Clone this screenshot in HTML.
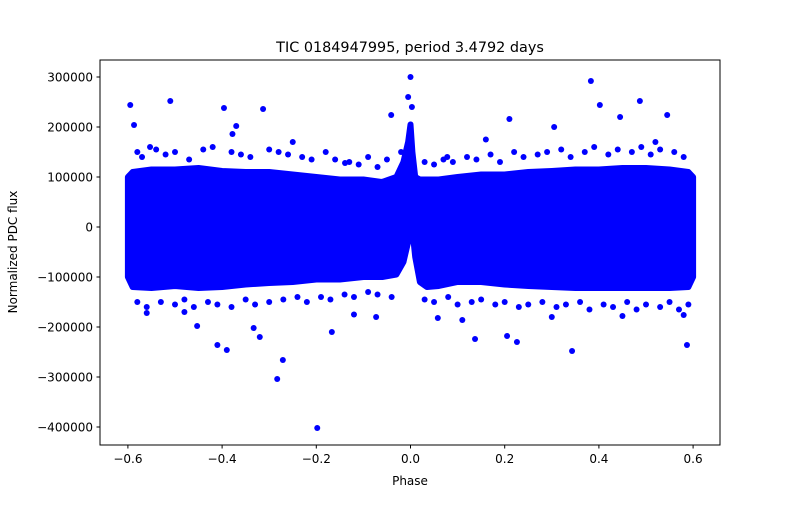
<!DOCTYPE html>
<html><head><meta charset="utf-8"><style>
body{margin:0;background:#fff;}
svg text{font-family:"DejaVu Sans","Liberation Sans",sans-serif;fill:#000;}
</style></head><body>
<svg id="chart" width="800" height="500" viewBox="0 0 800 500" xmlns="http://www.w3.org/2000/svg">
<rect width="800" height="500" fill="#fff"/>
<g id="plot"></g>
<rect x="100" y="60" width="620" height="385" fill="none" stroke="#000" stroke-width="1"/>
<g id="axes"></g>
<text x="410" y="52" font-size="14.4" text-anchor="middle">TIC 0184947995, period 3.4792 days</text>
<text x="410" y="485" font-size="12" text-anchor="middle">Phase</text>
<text transform="translate(17,252) rotate(-90)" font-size="12" text-anchor="middle">Normalized PDC flux</text>
</svg>
<script>
const envPhase=[-0.6,-0.59,-0.55,-0.5,-0.45,-0.4,-0.35,-0.3,-0.25,-0.2,-0.15,-0.1,-0.06,-0.03,-0.015,-0.005,0,0.004,0.01,0.02,0.035,0.06,0.1,0.15,0.2,0.25,0.3,0.35,0.4,0.45,0.5,0.55,0.59,0.6];
const envUpper=[100000,110000,115000,115000,118000,112000,110000,110000,105000,100000,95000,95000,90000,100000,130000,170000,205000,150000,100000,95000,95000,95000,100000,105000,105000,110000,112000,115000,115000,118000,118000,115000,110000,100000];
const envLower=[-100000,-120000,-122000,-118000,-122000,-120000,-115000,-112000,-110000,-105000,-105000,-100000,-100000,-95000,-70000,-30000,-8000,-5000,-60000,-110000,-120000,-118000,-110000,-110000,-115000,-118000,-120000,-122000,-122000,-122000,-122000,-122000,-120000,-100000];
const outPhase=[-0.595,-0.587,-0.51,-0.396,-0.313,-0.37,-0.198,-0.283,-0.271,-0.39,-0.41,-0.32,-0.333,-0.453,0,0.21,0.137,0.226,0.205,0.343,0.383,0.402,0.487,0.545,0.587,0.305,0.58,0.058,0.11,-0.073,-0.167,-0.378,-0.553,-0.139,-0.041,0.078,0.445,-0.005,0.003,-0.48,-0.25,-0.12,0.3,0.52,-0.56,0.16,0.45,
-0.58,-0.57,-0.54,-0.52,-0.5,-0.47,-0.44,-0.42,-0.38,-0.36,-0.34,-0.3,-0.28,-0.26,-0.23,-0.21,-0.18,-0.16,-0.13,-0.11,-0.09,-0.07,-0.05,-0.02,
0.03,0.05,0.07,0.09,0.12,0.14,0.17,0.19,0.22,0.24,0.27,0.29,0.32,0.34,0.37,0.39,0.42,0.44,0.47,0.49,0.51,0.53,0.56,0.58,
-0.58,-0.56,-0.53,-0.5,-0.48,-0.46,-0.43,-0.41,-0.38,-0.35,-0.33,-0.3,-0.27,-0.24,-0.22,-0.19,-0.17,-0.14,-0.12,-0.09,-0.07,-0.04,
0.03,0.05,0.08,0.1,0.13,0.15,0.18,0.2,0.23,0.25,0.28,0.31,0.33,0.36,0.38,0.41,0.43,0.46,0.48,0.5,0.53,0.55,0.57,0.59];
const outFlux=[244000,204000,252000,238000,236000,202000,-402000,-304000,-266000,-246000,-236000,-220000,-202000,-198000,300000,216000,-224000,-230000,-218000,-248000,292000,244000,252000,224000,-236000,200000,-176000,-182000,-186000,-180000,-210000,186000,160000,128000,224000,140000,220000,260000,240000,-170000,170000,-175000,-180000,170000,-172000,175000,-178000,
150000,140000,155000,145000,150000,135000,155000,160000,150000,145000,140000,155000,150000,145000,140000,135000,150000,135000,130000,125000,140000,120000,135000,150000,
130000,125000,135000,130000,140000,135000,145000,130000,150000,140000,145000,150000,155000,140000,150000,160000,145000,155000,150000,160000,145000,155000,150000,140000,
-150000,-160000,-150000,-155000,-145000,-160000,-150000,-155000,-160000,-145000,-155000,-150000,-145000,-140000,-150000,-140000,-145000,-135000,-140000,-130000,-135000,-140000,
-145000,-150000,-140000,-155000,-150000,-145000,-155000,-150000,-160000,-155000,-150000,-160000,-155000,-150000,-165000,-155000,-160000,-150000,-165000,-155000,-160000,-150000,-165000,-155000];
const xTicks=[-0.6,-0.4,-0.2,0.0,0.2,0.4,0.6];
const xTickLabels=["−0.6","−0.4","−0.2","0.0","0.2","0.4","0.6"];
const yTicks=[300000,200000,100000,0,-100000,-200000,-300000,-400000];
const yTickLabels=["300000","200000","100000","0","−100000","−200000","−300000","−400000"];

const NS="http://www.w3.org/2000/svg";
const xs=p=>410.5+p*471;
const ys=v=>227-v*0.0005;
const plot=document.getElementById('plot');
const axes=document.getElementById('axes');

let pts=envPhase.map((p,i)=>xs(p)+','+ys(envUpper[i]));
for(let i=envPhase.length-1;i>=0;i--)pts.push(xs(envPhase[i])+','+ys(envLower[i]));
const band=document.createElementNS(NS,'polygon');
band.setAttribute('points',pts.join(' '));
band.setAttribute('fill','#0000ff');band.setAttribute('stroke','#0000ff');
band.setAttribute('stroke-width','6');band.setAttribute('stroke-linejoin','round');


plot.appendChild(band);

outPhase.forEach((p,i)=>{
 const c=document.createElementNS(NS,'circle');
 c.setAttribute('cx',xs(p));c.setAttribute('cy',ys(outFlux[i]));c.setAttribute('r',3);
 c.setAttribute('fill','#0000ff');
 
 
 plot.appendChild(c);
});

xTicks.forEach((t,i)=>{
 const l=document.createElementNS(NS,'line');
 l.setAttribute('x1',xs(t));l.setAttribute('x2',xs(t));l.setAttribute('y1',445);l.setAttribute('y2',448.5);l.setAttribute('stroke','#000');
 
 
 axes.appendChild(l);
 const tx=document.createElementNS(NS,'text');
 tx.setAttribute('x',xs(t));tx.setAttribute('y',463);tx.setAttribute('font-size','12');tx.setAttribute('text-anchor','middle');
 tx.textContent=xTickLabels[i];
 
 
 axes.appendChild(tx);
});
yTicks.forEach((t,i)=>{
 const l=document.createElementNS(NS,'line');
 l.setAttribute('x1',96.5);l.setAttribute('x2',100);l.setAttribute('y1',ys(t));l.setAttribute('y2',ys(t));l.setAttribute('stroke','#000');
 
 
 axes.appendChild(l);
 const tx=document.createElementNS(NS,'text');
 tx.setAttribute('x',93);tx.setAttribute('y',ys(t)+4.5);tx.setAttribute('font-size','12');tx.setAttribute('text-anchor','end');
 tx.textContent=yTickLabels[i];
 
 
 axes.appendChild(tx);
});
</script>
</body></html>
